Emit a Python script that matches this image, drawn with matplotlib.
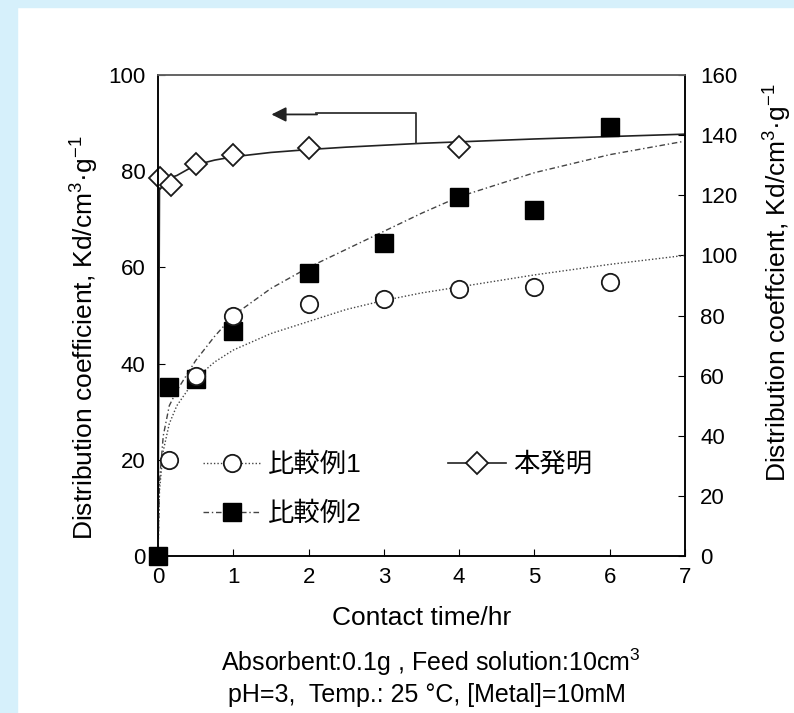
import numpy as np
import matplotlib.pyplot as plt
from matplotlib.patches import Rectangle

plt.rcParams['font.family'] = ['Liberation Sans', 'Noto Sans CJK JP', 'DejaVu Sans']
plt.rcParams['mathtext.fontset'] = 'custom'
plt.rcParams['mathtext.rm'] = 'Liberation Sans'

# measured points
t_inv = [0.03, 0.17, 0.5, 1, 2, 4]
kd_inv = [78.5, 77.1, 81.6, 83.4, 84.8, 85.0]          # left axis

t_c1 = [0.15, 0.5, 1, 2, 3, 4, 5, 6]
kd_c1 = [32, 60, 80, 83.9, 85.6, 88.9, 89.4, 91.1]      # right axis

t_c2 = [0, 0.15, 0.5, 1, 2, 3, 4, 5, 6]
kd_c2 = [0, 56.1, 58.9, 75, 94.2, 104.1, 119.4, 115.1, 142.7]  # right axis

# fitted curves
t_fit = [0, 0.02, 0.07, 0.15, 0.25, 0.5, 0.75, 1, 1.5, 2, 2.5, 3, 3.5, 4, 5, 6, 7]
fit_inv = [0, 78.0, 78.3, 78.6, 79.1, 81.3, 82.3, 83.0, 83.9, 84.5, 85.0, 85.4, 85.8, 86.1, 86.7, 87.2, 87.7]
fit_c1 = [0, 22, 35, 44, 50, 59, 64.5, 68.5, 74, 78, 82, 85, 87.5, 89.5, 93.5, 97, 100]
fit_c2 = [0, 25, 40, 50, 55, 65, 73, 80, 89, 96, 102, 108, 114, 119.5, 127.5, 133.5, 138]

fig = plt.figure(figsize=(7.94, 7.13), dpi=100)
fig.patches.append(Rectangle((0, 0), 17 / 794, 1, transform=fig.transFigure,
                             color='#d6f0fb', zorder=-5))
fig.patches.append(Rectangle((0, 1 - 7 / 713), 1, 7 / 713, transform=fig.transFigure,
                             color='#d6f0fb', zorder=-5))

ax = fig.add_axes([158 / 794, 157 / 713, 527 / 794, 481 / 713])
ax2 = ax.twinx()

DOT = (0, (1, 1.5))
DASHDOT = (0, (4, 2, 1, 2))

# right axis series
ax2.plot(t_fit, fit_c1, color='#444444', lw=1.0, ls=DOT)
ax2.plot(t_fit, fit_c2, color='#444444', lw=1.0, ls=DASHDOT)
ax2.plot(t_c2, kd_c2, ls='none', marker='s', ms=12.5, mfc='black', mec='black',
         zorder=3, clip_on=False)
ax2.plot(t_c1, kd_c1, ls='none', marker='o', ms=12.5, mfc='white', mec='#1a1a1a',
         mew=1.3, zorder=4, clip_on=False)

# left axis series
ax.plot(t_fit, fit_inv, color='#222222', lw=1.2)
ax.plot(t_inv, kd_inv, ls='none', marker='D', ms=11.5, mfc='white', mec='#1a1a1a',
        mew=1.3, clip_on=False)

# arrow pointing to the left axis
ax.plot([3.43, 3.43, 2.1], [85.9, 92.0, 92.0], color='#333333', lw=1.3)
ax.annotate('', xy=(1.47, 91.8), xytext=(2.15, 91.8),
            arrowprops=dict(arrowstyle='-|>', color='#222222', lw=1.3, mutation_scale=22))

ax.set_xlim(0, 7)
ax.set_ylim(0, 100)
ax2.set_ylim(0, 160)
ax.set_xticks(range(8))
ax.set_yticks(range(0, 101, 20))
ax2.set_yticks(range(0, 161, 20))
ax.tick_params(axis='x', direction='in', labelsize=16, length=5, pad=8)
ax.tick_params(axis='y', direction='in', labelsize=16, length=5, pad=9)
ax2.tick_params(direction='in', labelsize=16, length=5, pad=11)
for a in (ax, ax2):
    for s in a.spines.values():
        s.set_linewidth(1.1)
ax2.spines['top'].set_color('#777777')

ax.set_xlabel('Contact time/hr', fontsize=19, labelpad=13)
ax.set_ylabel('Distribution coefficient, Kd/cm$^3$·g$^{-1}$', fontsize=19, labelpad=6)
ax2.set_ylabel('Distribution coeffcient, Kd/cm$^3$·g$^{-1}$', fontsize=19, labelpad=16)
ax.yaxis.label.set_y(0.453)
ax2.yaxis.label.set_y(0.568)

# legend
h1 = plt.Line2D([], [], color='#444444', lw=1.0, ls=DOT, marker='o', ms=12.5,
                mfc='white', mec='#1a1a1a', mew=1.3)
h2 = plt.Line2D([], [], color='#444444', lw=1.0, ls=DASHDOT, marker='s', ms=12.5,
                mfc='black', mec='black')
h3 = plt.Line2D([], [], color='#222222', lw=1.2, marker='D', ms=11.5,
                mfc='white', mec='#1a1a1a', mew=1.3)
ax2.legend([h1, h2, h3], ['比較例1', '比較例2', '本発明'], ncol=2, frameon=False,
           loc='lower left', bbox_to_anchor=(0.04, 0.013), fontsize=19,
           handlelength=2.2, columnspacing=3.3, labelspacing=0.94, handletextpad=0.25)

fig.text(431 / 794, 1 - 662 / 713, 'Absorbent:0.1g , Feed solution:10cm$^3$',
         ha='center', va='center', fontsize=18)
fig.text(427 / 794, 1 - 695 / 713, 'pH=3,  Temp.: 25 °C, [Metal]=10mM',
         ha='center', va='center', fontsize=18)

fig.savefig('out.png', dpi=100)
